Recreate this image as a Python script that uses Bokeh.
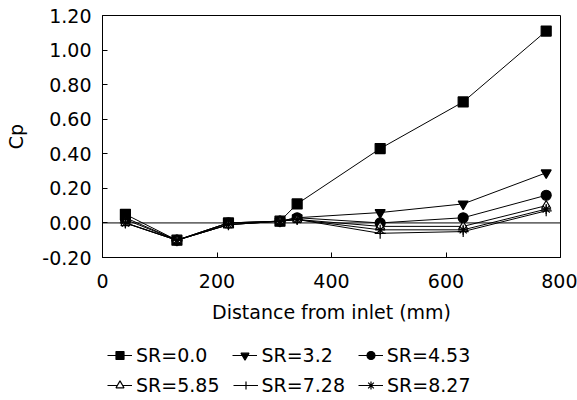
from bokeh.plotting import figure
from bokeh.layouts import column
from bokeh.models import Span, Legend, LegendItem, FixedTicker, NumeralTickFormatter, Range1d
from bokeh.embed import file_html
from bokeh.resources import INLINE

# ---- data ----
distance = [40, 130, 220, 310, 340, 485, 630, 775]
series_labels = ["SR=0.0", "SR=3.2", "SR=4.53", "SR=5.85", "SR=7.28", "SR=8.27"]
cp_sr_0_0 = [0.05, -0.10, 0.00, 0.01, 0.11, 0.43, 0.70, 1.11]
cp_sr_3_2 = [0.03, -0.10, 0.00, 0.01, 0.03, 0.06, 0.11, 0.29]
cp_sr_4_53 = [0.02, -0.10, 0.00, 0.01, 0.03, 0.00, 0.03, 0.16]
cp_sr_5_85 = [0.00, -0.10, -0.01, 0.01, 0.02, -0.02, -0.02, 0.10]
cp_sr_7_28 = [0.00, -0.10, -0.01, 0.01, 0.02, -0.06, -0.05, 0.07]
cp_sr_8_27 = [0.00, -0.10, -0.01, 0.01, 0.02, -0.04, -0.04, 0.08]
x_ticks = [0, 200, 400, 600, 800]
y_ticks = [-0.2, 0.0, 0.2, 0.4, 0.6, 0.8, 1.0, 1.2]

series = [cp_sr_0_0, cp_sr_3_2, cp_sr_4_53, cp_sr_5_85, cp_sr_7_28, cp_sr_8_27]
markers = ["square", "inverted_triangle", "circle", "triangle", "cross", "asterisk"]
fills = ["black", "black", "black", "white", None, None]
sizes = [10, 10, 10, 9, 11, 10]

FONT = "DejaVu Sans"

# ---- main chart ----
p = figure(width=577, height=335, output_backend="svg", toolbar_location=None,
           x_range=Range1d(0, 800), y_range=Range1d(-0.2, 1.2),
           min_border_left=102, min_border_right=17, min_border_top=15,
           min_border_bottom=78, background_fill_color="white",
           border_fill_color="white")

p.grid.visible = False
p.outline_line_color = "black"
p.outline_line_width = 1

p.xaxis.ticker = FixedTicker(ticks=x_ticks, minor_ticks=[])
p.yaxis.ticker = FixedTicker(ticks=y_ticks, minor_ticks=[])
p.yaxis.formatter = NumeralTickFormatter(format="0.00")
p.xaxis.axis_label = "Distance from inlet (mm)"
p.yaxis.axis_label = "Cp"
for ax in (p.xaxis, p.yaxis):
    ax.major_label_text_font = FONT
    ax.major_label_text_font_size = "19px"
    ax.major_label_text_color = "black"
    ax.axis_label_text_font = FONT
    ax.axis_label_text_font_size = "19px"
    ax.axis_label_text_font_style = "normal"
    ax.axis_label_text_color = "black"
    ax.major_tick_in = 5
    ax.major_tick_out = 0
    ax.minor_tick_in = 0
    ax.minor_tick_out = 0
    ax.axis_line_color = "black"
    ax.major_tick_line_color = "black"
p.xaxis.major_label_standoff = 16
p.xaxis.axis_label_standoff = 10
p.yaxis.major_label_standoff = 11
p.yaxis.axis_label_standoff = 12

p.add_layout(Span(location=0, dimension="width", line_color="black", line_width=1))

# ---- legend strip (renderers kept out of its view, only the legend shows) ----
q = figure(width=577, height=65, output_backend="svg", toolbar_location=None,
           x_range=Range1d(-20, -10), y_range=Range1d(-20, -10),
           x_axis_type=None, y_axis_type=None, min_border=0,
           outline_line_color=None, background_fill_color="white",
           border_fill_color="white")
q.grid.visible = False

items = []
for lab, ys, mk, fc, sz in zip(series_labels, series, markers, fills, sizes):
    p.line(distance, ys, line_color="black", line_width=1)
    p.scatter(distance, ys, marker=mk, size=sz, line_color="black",
              fill_color=fc, line_width=1.2)
    lr = q.line(distance, ys, line_color="black", line_width=1)
    sr = q.scatter(distance, ys, marker=mk, size=sz, line_color="black",
                   fill_color=fc, line_width=1.2)
    items.append(LegendItem(label=lab, renderers=[lr, sr]))

common = dict(orientation="horizontal", margin=0, padding=5,
              label_text_font=FONT, label_text_font_size="19px",
              label_text_color="black", glyph_width=25, glyph_height=20,
              label_height=20, label_standoff=4, border_line_color=None,
              background_fill_alpha=0)
legend_row1 = Legend(items=items[:3], spacing=25, location=(5, 34), **common)
legend_row2 = Legend(items=items[3:], spacing=13, location=(5, 4), **common)
q.add_layout(legend_row1, "center")
q.add_layout(legend_row2, "center")

layout = column(p, q, spacing=0)
open("out.html", "w").write(file_html(layout, INLINE))
